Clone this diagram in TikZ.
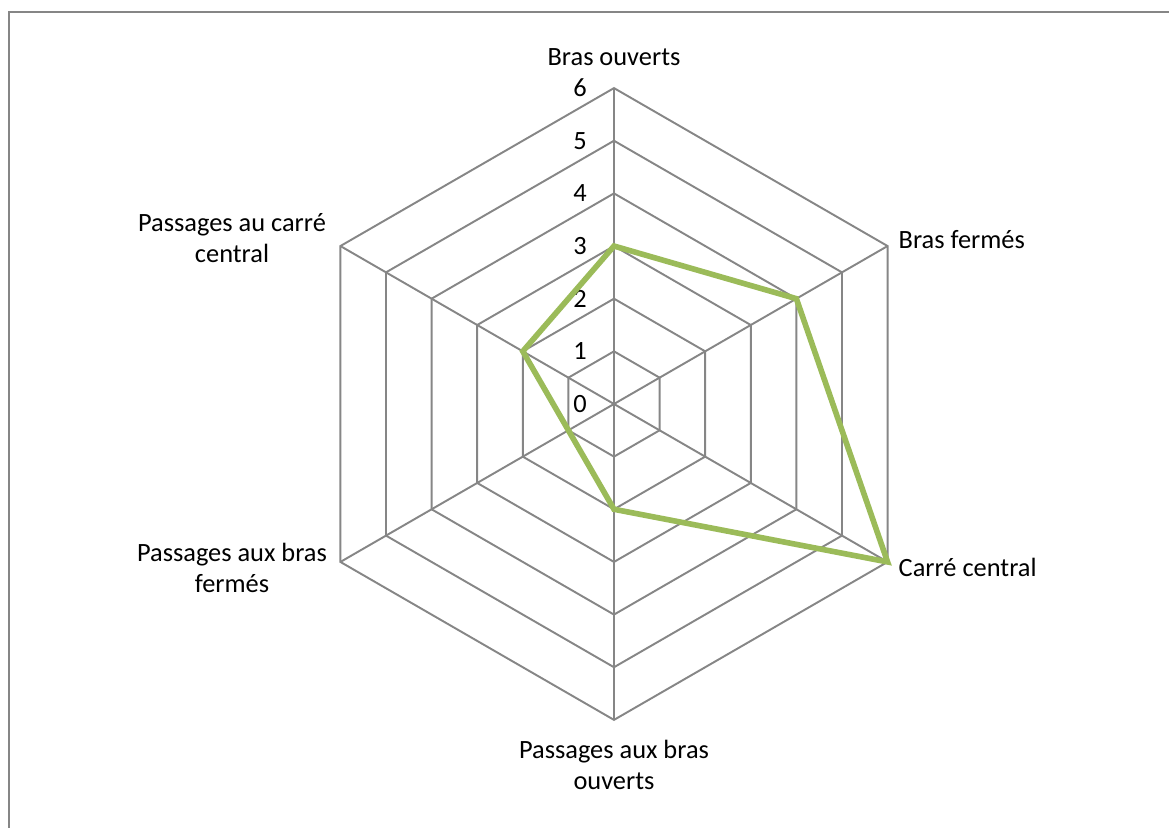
\documentclass[tikz,border=0pt]{standalone}
\usepackage{fontspec}
\setmainfont{Carlito}
\definecolor{gridgray}{HTML}{868686}
\definecolor{seriesgreen}{HTML}{9BBB59}
\tikzset{
  grid line/.style={draw=gridgray, line width=0.55pt},
  series line/.style={draw=seriesgreen, line width=1.6pt, line join=miter},
  axis label/.style={font=\fontsize{7.5}{8.8}\selectfont, align=center, inner sep=0pt},
  tick label/.style={font=\fontsize{7.5}{8.8}\selectfont, inner sep=0pt}
}
\begin{document}
\begin{tikzpicture}[x=0.01cm, y=0.01cm]
	\useasboundingbox (-614,-424) rectangle (555,404);
	\draw [gridgray, line width=0.8pt] (-605,-424) -- (-605,392) -- (555,392);
	% rings
	\foreach \r in {1,...,6}
		\draw [grid line] (90:52.65*\r) -- (30:52.65*\r) -- (-30:52.65*\r) -- (-90:52.65*\r) -- (-150:52.65*\r) -- (150:52.65*\r) -- cycle;
	% spokes
	\coordinate (o) at (0,0);
	\coordinate (a1) at (90:315.9);
	\coordinate (a2) at (30:315.9);
	\coordinate (a3) at (-30:315.9);
	\coordinate (a4) at (-90:315.9);
	\coordinate (a5) at (-150:315.9);
	\coordinate (a6) at (150:315.9);
	\foreach \k in {1,...,6}
		\draw [grid line] (o) -- (a\k);
	% tick labels
	\foreach \v in {0,...,6}
		\node [tick label] (t\v) at (-34,52.65*\v) {\v};
	% axis labels
	\node [axis label] (bo) at (0,347) {Bras ouverts};
	\node [axis label, anchor=west] (bf) at (284,164) {Bras fermés};
	\node [axis label, anchor=west] (cc) at (284,-163) {Carré central};
	\node [axis label] (pbo) at (0,-361) {Passages aux bras\\ouverts};
	\node [axis label] (pbf) at (-382,-164) {Passages aux bras\\fermés};
	\node [axis label] (pcc) at (-382,166) {Passages au carré\\central};
	% data
	\coordinate (d1) at (90:3*52.65);
	\coordinate (d2) at (30:4*52.65);
	\coordinate (d3) at (-30:6*52.65);
	\coordinate (d4) at (-90:2*52.65);
	\coordinate (d5) at (-150:1*52.65);
	\coordinate (d6) at (150:2*52.65);
	\draw [series line] (d1) -- (d2) -- (d3) -- (d4) -- (d5) -- (d6) -- cycle;
\end{tikzpicture}
\end{document}
